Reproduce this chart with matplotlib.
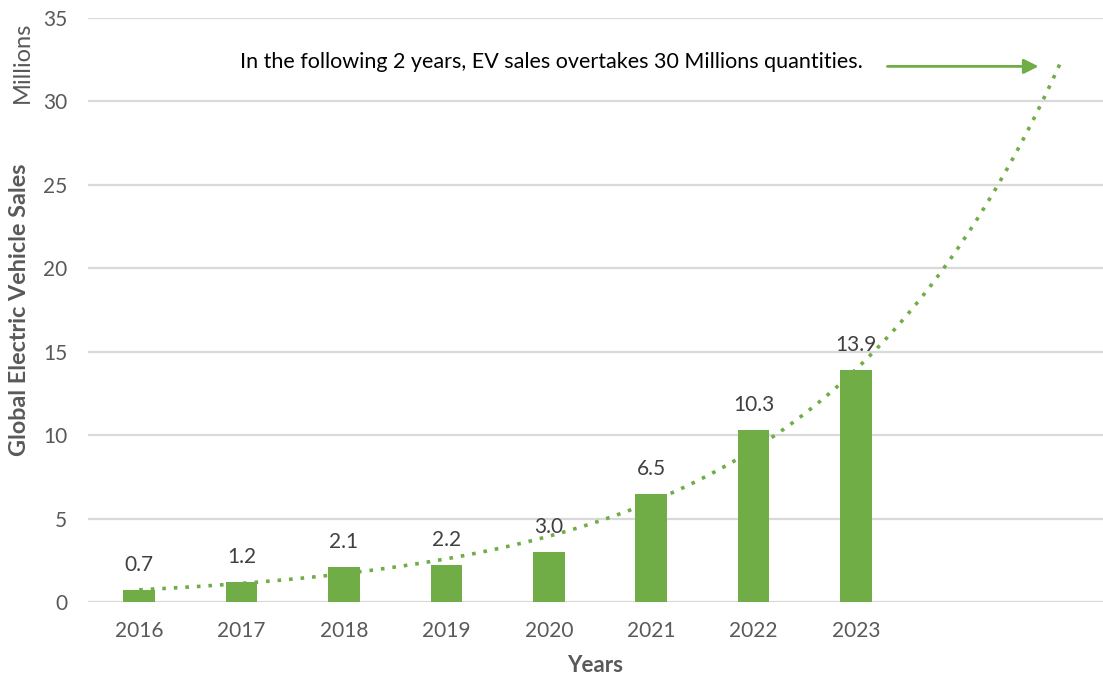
import numpy as np
import matplotlib.pyplot as plt

plt.rcParams['font.family'] = ['Lato', 'DejaVu Sans']

# EV sales in millions
years = ['2016', '2017', '2018', '2019', '2020', '2021', '2022', '2023']
sales = [0.7, 1.2, 2.1, 2.2, 3.0, 6.5, 10.3, 13.9]
forecast_periods = 2
note = 'In the following 2 years, EV sales overtakes 30 Millions quantities.'

green = '#70AD47'
gray = '#595959'

fig = plt.figure(figsize=(11.03, 6.81), dpi=100)
ax = fig.add_axes([88/1103, 79/681, 1015/1103, 584/681])

x = np.arange(len(years))
ax.bar(x, sales, width=0.31, color=green, zorder=3)
for xi, v in zip(x, sales):
    ax.text(xi, v + 0.9, f'{v:.1f}', ha='center', va='bottom', fontsize=15, color='#404040')

# exponential trendline, projected 2 periods forward (like Excel)
b, a = np.polyfit(x + 1, np.log(sales), 1)
xt = np.linspace(0, len(years) - 1 + forecast_periods, 200)
yt = np.exp(a + b * (xt + 1))
ax.plot(xt, yt, color=green, linestyle=(0, (1, 2.2)), linewidth=2.6, zorder=4)

ax.set_xlim(-0.5, -0.5 + 1015/102.4)
ax.set_ylim(0, 35)
ax.set_yticks(range(0, 36, 5))
ax.set_xticks(x)
ax.set_xticklabels(years)
ax.tick_params(axis='both', length=0, labelsize=15, colors=gray)
ax.tick_params(axis='x', pad=14)
ax.tick_params(axis='y', pad=15)
ax.grid(axis='y', color='#D9D9D9', linewidth=1.6, zorder=0)
ax.set_axisbelow(True)
for s in ax.spines.values():
    s.set_visible(False)

ax.set_xlabel('Years', fontsize=16, fontweight='bold', color=gray, labelpad=10)
fig.text(20/1103, 1 - 310/681, 'Global Electric Vehicle Sales', rotation=90,
         ha='center', va='center', fontsize=16.8, fontweight='bold', color=gray)
fig.text(22/1103, 1 - 62/681, 'Millions', rotation=90,
         ha='center', va='center', fontsize=17, color=gray)

fig.text(240/1103, 1 - 62/681, note, ha='left', va='center', fontsize=15.5, color='black')
ax.annotate('', xy=(8.81, 32.1), xytext=(7.28, 32.1),
            arrowprops=dict(arrowstyle='-|>', color=green, lw=2, mutation_scale=22))

fig.savefig('out.png', dpi=100)
